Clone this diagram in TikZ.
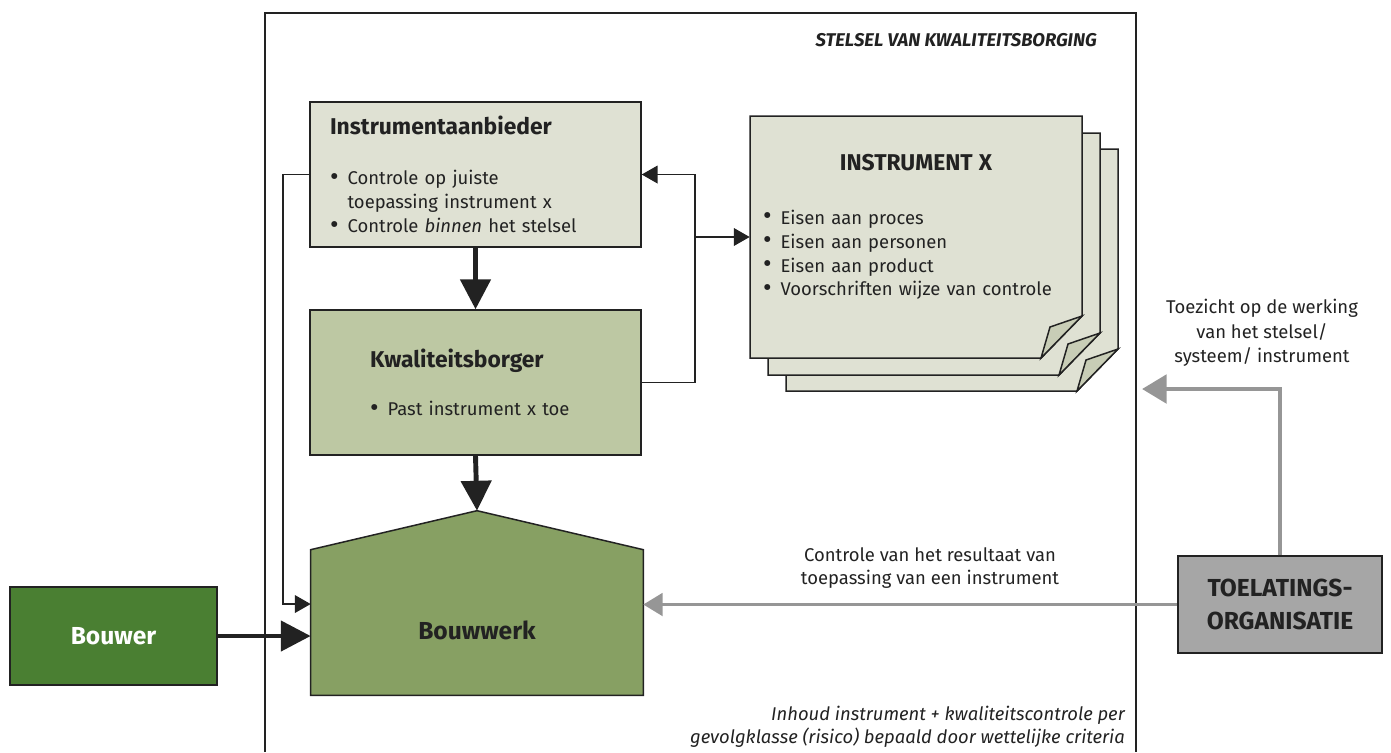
\documentclass[tikz,border=0pt]{standalone}
\usepackage{fontspec}
\setmainfont{Fira Sans}
\usetikzlibrary{arrows.meta,positioning,calc}
\definecolor{lijn}{RGB}{34,34,34}
\definecolor{bleek}{RGB}{223,225,211}
\definecolor{salie}{RGB}{189,200,163}
\definecolor{mos}{RGB}{135,160,99}
\definecolor{woud}{RGB}{74,127,50}
\definecolor{grijs}{RGB}{166,166,166}
\definecolor{pijlgrijs}{RGB}{150,150,150}
\definecolor{flap}{RGB}{200,205,182}
\newcommand{\titel}[1]{{\fontsize{13}{16}\selectfont\bfseries #1}}
\newcommand{\stip}{\makebox[10pt][l]{\raisebox{-0.05ex}{\fontsize{15}{1}\selectfont•}}}
\tikzset{
  kader/.style={draw=lijn,line width=1.1pt},
  blok/.style={draw=lijn,line width=0.85pt,rectangle,inner ysep=0pt},
  dik/.style={draw=lijn,line width=2.8pt,-{Triangle[length=17pt,width=17pt]}},
  dun/.style={draw=lijn,line width=1pt,-{Triangle[length=9pt,width=10pt]}},
  grijsdik/.style={draw=pijlgrijs,line width=2.8pt,-{Triangle[length=14pt,width=16pt]}},
  grijsdun/.style={draw=pijlgrijs,line width=1.4pt,-{Triangle[length=11pt,width=13pt]}},
  vel/.style={draw=lijn,line width=0.85pt,fill=bleek}
}
\begin{document}
\begin{tikzpicture}[x=0.02cm,y=-0.02cm,font=\fontsize{10.5}{13.6}\selectfont,text=lijn]
  \useasboundingbox (0,0) rectangle (1391,752);

  % kader van het stelsel
  \draw[kader] (265,752) -- (265,13) -- (1136,13) -- (1136,752);
  \node[anchor=east,font=\fontsize{10.5}{13}\selectfont\bfseries\itshape] (stelsel) at (1103,40) {STELSEL VAN KWALITEITSBORGING};

  % blokken
  \node[blok,fill=bleek,minimum width=6.62cm,minimum height=2.9cm,text width=5.82cm,inner xsep=0.4cm,align=left] (aanbieder) at (475.5,174.5)
    {\titel{Instrumentaanbieder}\\[15pt]
     \stip Controle op juiste\\
     \hspace*{10pt}toepassing instrument x\\
     \stip Controle \textit{binnen} het stelsel};
  \node[blok,fill=salie,minimum width=6.62cm,minimum height=2.9cm,text width=4.22cm,inner xsep=1.2cm,align=left] (borger) at (475.5,382.5)
    {\titel{Kwaliteitsborger}\\[14pt]
     \stip Past instrument x toe};

  % bouwwerk (huisvorm)
  \node[minimum width=6.64cm,minimum height=2.9cm] (bouwwerk) at (477,622.5) {};
  \coordinate (dak) at ([yshift=0.78cm]bouwwerk.north);
  \draw[blok,fill=mos] (bouwwerk.south west) -- (bouwwerk.north west) -- (dak) -- (bouwwerk.north east) -- (bouwwerk.south east) -- cycle;
  \node[font=\fontsize{14}{16}\selectfont\bfseries] at ([yshift=-0.15cm]bouwwerk.center) {Bouwwerk};

  \node[blok,fill=woud,minimum width=4.14cm,minimum height=1.96cm,text=white,font=\fontsize{14}{16}\selectfont\bfseries] (bouwer) at (113.5,636) {Bouwer};
  \node[blok,fill=grijs,minimum width=4.08cm,minimum height=1.94cm,align=center,font=\fontsize{14}{18.7}\selectfont\bfseries] (toelating) at (1280,604.5) {TOELATINGS-\\ORGANISATIE};

  % instrument x, drie vellen
  \foreach \dx/\dy in {36/33,18/17,0/0}{
    \draw[vel] (750+\dx,116+\dy) -- (1082+\dx,116+\dy) -- (1082+\dx,316+\dy) -- (1041+\dx,358+\dy) -- (750+\dx,358+\dy) -- cycle;
    \draw[vel,fill=flap] (1041+\dx,358+\dy) -- (1050+\dx,327+\dy) -- (1082+\dx,316+\dy) -- cycle;
  }
  \node[minimum width=6.64cm,minimum height=4.84cm,text width=6.12cm,inner xsep=0.26cm,align=left] (instrx) at (916,237)
    {\makebox[\linewidth][c]{\titel{INSTRUMENT X}}\\[17pt]
     \stip Eisen aan proces\\
     \stip Eisen aan personen\\
     \stip Eisen aan product\\
     \stip Voorschriften wijze van controle\\[0pt]\mbox{}};

  % verbindingen
  \draw[dik] (aanbieder.south) -- (borger.north);
  \draw[dik] (borger.south) -- (dak);
  \draw[dik] (bouwer.east) -- (bouwer.east -| bouwwerk.west);
  \draw[dun] (aanbieder.west) -- ++(-26,0) |- ([yshift=0.37cm]bouwwerk.west);
  \draw[dun] (borger.east) -- ++(53,0) coordinate (knik) |- (aanbieder.east);
  \draw[dun] (knik |- instrx.west) -- (instrx.west);
  \draw[grijsdun] (toelating.west) -- (toelating.west -| bouwwerk.east);
  \coordinate (toez) at (1142,389);
  \draw[grijsdik] (toelating.north) |- (toez);

  % teksten
  \node[align=center,font=\fontsize{10.5}{14}\selectfont] (toezicht) at (1262,333) {Toezicht op de werking\\van het stelsel/\\systeem/ instrument};
  \node[align=center] (controle) at (930,568) {Controle van het resultaat van\\toepassing van een instrument};
  \node[anchor=east,align=right,font=\fontsize{10.5}{13}\selectfont\itshape] (criteria) at (1131,727)
    {Inhoud instrument + kwaliteitscontrole per\\gevolgklasse (risico) bepaald door wettelijke criteria};
\end{tikzpicture}
\end{document}
